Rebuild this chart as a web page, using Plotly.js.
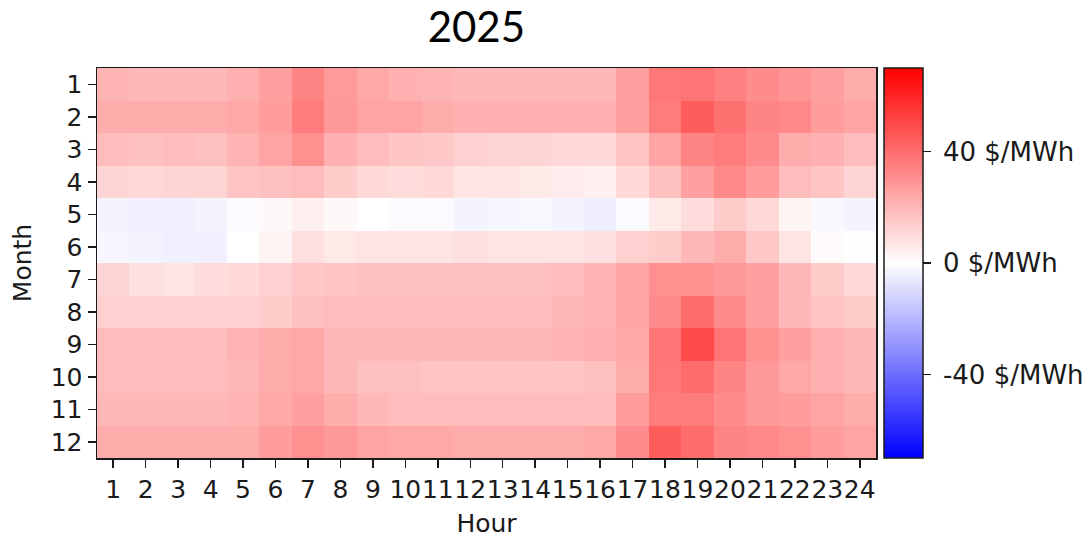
<!DOCTYPE html>
<html>
<head>
<meta charset="utf-8">
<script src="https://cdn.plot.ly/plotly-3.0.1.min.js"></script>
<style>
  html, body { margin: 0; padding: 0; background: #fff; }
  #chart { width: 1088px; height: 541px; }
</style>
</head>
<body>
<div id="chart"></div>
<script>
// Average hourly price spread by month, $/MWh
const hours = [1,2,3,4,5,6,7,8,9,10,11,12,13,14,15,16,17,18,19,20,21,22,23,24];
const months = [1,2,3,4,5,6,7,8,9,10,11,12];

const jan = [20.6,19.5,19.5,19.5,21.7,26.1,33.8,27.7,23.9,21.7,20.6,19.5,19.5,19.5,19.5,19.5,26.1,37.1,38.2,34.9,31.6,29.4,26.1,22.8];
const feb = [22.8,22.8,22.8,22.8,23.9,27.2,36.0,28.3,25.0,25.0,22.8,21.7,21.7,21.7,21.7,21.7,26.1,36.0,44.7,39.3,33.8,32.7,27.2,25.0];
const mar = [18.4,17.3,18.4,17.3,20.6,25.0,30.5,21.7,18.4,16.2,15.1,12.9,11.8,11.8,10.7,10.7,16.2,25.0,33.8,36.0,31.6,22.8,21.7,18.4];
const apr = [11.8,10.7,11.8,11.8,16.2,17.3,18.4,14.0,10.7,9.6,10.7,7.4,7.4,6.3,5.2,4.1,10.7,17.3,26.1,32.7,27.2,18.4,16.2,11.8];
const may = [-3.0,-4.1,-4.1,-3.0,-1.4,1.9,4.1,1.9,0.0,-1.4,-1.4,-3.0,-2.5,-1.9,-3.0,-4.7,-1.1,5.8,9.6,14.0,10.7,3.0,-1.9,-3.0];
const jun = [-2.5,-3.0,-4.1,-4.1,0.0,3.0,8.5,6.3,7.4,7.4,7.4,8.5,7.4,7.4,7.4,8.5,12.9,14.0,19.5,22.8,15.1,7.4,1.1,0.3];
const jul = [11.8,8.5,7.4,9.6,10.7,12.9,15.1,16.2,17.3,17.3,17.3,17.3,17.3,17.3,18.4,20.6,25.0,30.5,30.5,28.3,26.1,19.5,14.0,10.7];
const aug = [12.9,12.9,12.9,12.9,12.9,14.0,17.3,18.4,18.4,18.4,18.4,18.4,18.4,18.4,19.5,20.6,25.0,31.6,40.4,31.6,26.1,19.5,16.2,14.0];
const sep = [18.4,18.4,18.4,18.4,20.6,22.8,23.9,19.5,19.5,19.5,19.5,19.5,19.5,19.5,20.6,21.7,23.9,38.2,49.7,38.2,30.5,26.1,21.7,19.5];
const oct = [18.4,18.4,18.4,18.4,19.5,22.8,23.9,19.5,17.3,17.3,16.2,16.2,16.2,16.2,16.2,17.3,22.8,37.1,40.4,33.8,28.3,23.9,21.7,19.5];
const nov = [19.5,19.5,19.5,19.5,20.6,23.9,26.1,22.8,19.5,18.4,18.4,18.4,18.4,18.4,18.4,18.4,27.2,36.0,36.0,31.6,28.3,27.2,25.0,22.8];
const dec = [22.8,22.8,22.8,22.8,22.8,27.2,30.5,28.3,25.0,23.9,23.9,22.8,22.8,22.8,22.8,23.9,31.6,44.7,40.4,33.8,32.7,30.5,27.2,25.0];

const cbarTicks = [-40, 0, 40];
const cbarLabels = ['-40 $/MWh', '0 $/MWh', '40 $/MWh'];

const z = [jan, feb, mar, apr, may, jun, jul, aug, sep, oct, nov, dec];

const tickFont = {family: 'DejaVu Sans, sans-serif', size: 25, color: '#1a1a1a'};
const cbarFont = {family: 'DejaVu Sans, sans-serif', size: 26, color: '#1a1a1a'};

const trace = {
  type: 'heatmap',
  x: hours,
  y: months,
  z: z,
  zmin: -70,
  zmax: 70,
  zsmooth: false,
  colorscale: [[0, 'rgb(0,0,255)'], [0.5, 'rgb(255,255,255)'], [1, 'rgb(255,0,0)']],
  colorbar: {
    x: 1.0103,
    xanchor: 'left',
    xref: 'paper',
    y: 0.5,
    yanchor: 'middle',
    len: 1,
    lenmode: 'fraction',
    thickness: 39,
    thicknessmode: 'pixels',
    outlinewidth: 1.5,
    outlinecolor: '#1a1a1a',
    tickmode: 'array',
    tickvals: cbarTicks,
    // leading four-per-em space widens the gap between tick and label
    ticktext: cbarLabels.map(function (s) { return '\u2005' + s; }),
    ticks: 'outside',
    ticklen: 8,
    tickwidth: 1.5,
    tickcolor: '#1a1a1a',
    tickfont: cbarFont,
    xpad: 0,
    ypad: 0
  }
};

const layout = {
  width: 1088,
  height: 541,
  margin: {l: 97, r: 212, t: 68, b: 83, autoexpand: false},
  paper_bgcolor: '#ffffff',
  plot_bgcolor: '#ffffff',
  title: {
    text: '2025',
    font: {family: 'Lato, "Open Sans", sans-serif', size: 42, color: '#000'},
    x: 0.487,
    xref: 'paper',
    xanchor: 'center',
    y: 0.95,
    yref: 'container',
    yanchor: 'middle'
  },
  xaxis: {
    title: {text: 'Hour', font: tickFont, standoff: 12},
    tickmode: 'array',
    tickvals: hours,
    ticktext: hours.map(String),
    tickangle: 0,
    tickfont: tickFont,
    ticks: 'outside',
    ticklen: 8,
    tickwidth: 1.5,
    tickcolor: '#1a1a1a',
    showline: true,
    linecolor: '#1a1a1a',
    linewidth: 1.5,
    mirror: true,
    showgrid: false,
    zeroline: false,
    automargin: false,
    range: [0.5, 24.5]
  },
  yaxis: {
    title: {text: 'Month', font: tickFont, standoff: 12},
    tickmode: 'array',
    tickvals: months,
    ticktext: months.map(String),
    tickfont: tickFont,
    ticks: 'outside',
    ticklen: 8,
    tickwidth: 1.5,
    tickcolor: '#1a1a1a',
    showline: true,
    linecolor: '#1a1a1a',
    linewidth: 1.5,
    mirror: true,
    showgrid: false,
    zeroline: false,
    automargin: false,
    range: [12.5, 0.5]
  }
};

Plotly.newPlot('chart', [trace], layout, {displayModeBar: false, staticPlot: true});
</script>
</body>
</html>
